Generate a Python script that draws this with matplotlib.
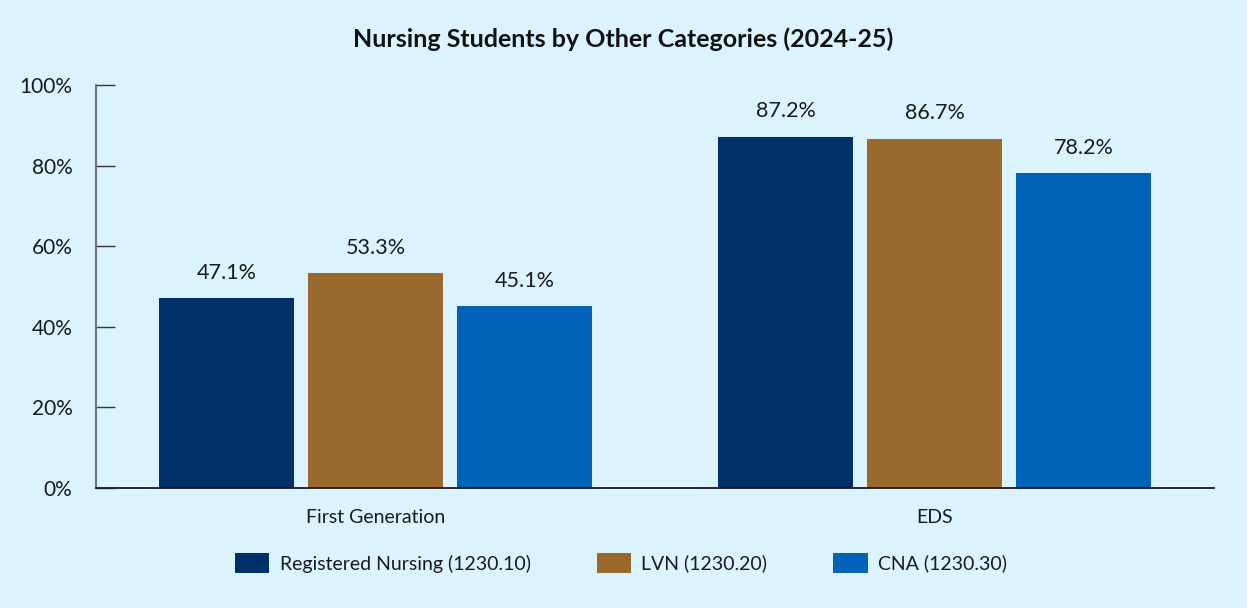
import matplotlib.pyplot as plt
import numpy as np

plt.rcParams['font.family'] = ['Lato', 'DejaVu Sans']

categories = ["First Generation", "EDS"]
series_names = ["Registered Nursing (1230.10)", "LVN (1230.20)", "CNA (1230.30)"]
rn = [47.1, 87.2]
lvn = [53.3, 86.7]
cna = [45.1, 78.2]
yticks = [0, 20, 40, 60, 80, 100]

colors = ["#003068", "#9a6a2d", "#0063b9"]
bg = "#dbf3fd"

fig = plt.figure(figsize=(12.47, 6.08), dpi=100, facecolor=bg)
ax = fig.add_axes([0.077, 0.1974, 0.8965, 0.6628])
ax.set_facecolor(bg)

x = np.arange(len(categories))
width = 0.2415
step = 0.2666
for i, (vals, name) in enumerate(zip([rn, lvn, cna], series_names)):
    bars = ax.bar(x + (i - 1) * step, vals, width, color=colors[i], label=name)
    for b, v in zip(bars, vals):
        ax.annotate(f"{v}%", (b.get_x() + b.get_width() / 2, v),
                    xytext=(0, 11), textcoords="offset points",
                    ha="center", va="bottom", fontsize=15.5, color="#1a1a1a")

ax.set_xlim(-0.5, 1.5)
ax.set_ylim(0, 100)
ax.set_yticks(yticks)
ax.set_yticklabels([f"{t}%" for t in yticks], fontsize=15, color="#1a1a1a")
ax.set_xticks(x)
ax.set_xticklabels(categories, fontsize=14, color="#1a1a1a")
ax.tick_params(axis="x", length=0, pad=15)
ax.tick_params(axis="y", direction="in", length=14, width=1, color="#333333", pad=17)

for s in ["top", "right"]:
    ax.spines[s].set_visible(False)
ax.spines["left"].set_color("#6e757c")
ax.spines["left"].set_linewidth(1.5)
ax.spines["bottom"].set_color("#1a1a1a")
ax.spines["bottom"].set_linewidth(1.3)

fig.suptitle("Nursing Students by Other Categories (2024-25)", y=0.955,
             fontsize=18, fontweight="bold", color="#111111")

fig.legend(loc="center", bbox_to_anchor=(0.498, 0.074), ncol=3, frameon=False,
           fontsize=14, handlelength=1.75, handleheight=1.2, columnspacing=3.4,
           handletextpad=0.55, labelcolor="#1a1a1a")

plt.savefig("out.png", dpi=100, facecolor=bg)
